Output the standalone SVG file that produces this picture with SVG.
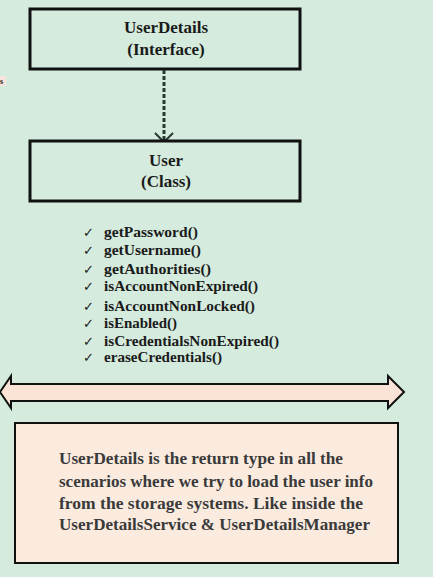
<svg xmlns="http://www.w3.org/2000/svg" width="433" height="577" viewBox="0 0 433 577">
<style>
.bg{fill:#d4ebdd}
.box{fill:#d4ebdd;stroke:#111;stroke-width:3}
.note{fill:#fbebdf;stroke:#111;stroke-width:2}
.t{font-family:"Liberation Serif",serif;font-weight:bold;fill:#1a1a1a}
.title{font-size:17px;text-anchor:middle}
.item{font-size:15px}
.chk{font-family:"DejaVu Sans",sans-serif;font-weight:normal;font-size:13px}
.body{font-size:17px;fill:#3a3a3a}
.conn{stroke:#2a3a33;stroke-width:3;stroke-dasharray:4 2;fill:none}
</style>
<rect class="bg" x="0" y="0" width="433" height="577"/>
<g id="fragment">
<rect x="0" y="76" width="6" height="10" fill="#f6e4dc"/>
<text class="t" x="0" y="84" font-size="8">s</text>
</g>
<g id="userdetails">
<rect class="box" x="30" y="9" width="270" height="60"/>
<text class="t title" x="166" y="33">UserDetails</text>
<text class="t title" x="166" y="55">(Interface)</text>
</g>
<g id="connectors">
<line class="conn" x1="164" y1="70" x2="164" y2="141"/>
<polyline points="155,133 164,142 173,133" fill="none" stroke="#2a3a33" stroke-width="2"/>
</g>
<g id="user">
<rect class="box" x="30" y="141" width="270" height="60"/>
<text class="t title" x="166" y="166">User</text>
<text class="t title" x="166" y="187">(Class)</text>
</g>
<g id="methods" class="t item">
<text class="chk" x="83" y="237">✓</text><text x="104" y="237" textLength="94" lengthAdjust="spacingAndGlyphs">getPassword()</text>
<text class="chk" x="83" y="255">✓</text><text x="104" y="255" textLength="97" lengthAdjust="spacingAndGlyphs">getUsername()</text>
<text class="chk" x="83" y="274">✓</text><text x="104" y="274" textLength="107" lengthAdjust="spacingAndGlyphs">getAuthorities()</text>
<text class="chk" x="83" y="291">✓</text><text x="104" y="291" textLength="154" lengthAdjust="spacingAndGlyphs">isAccountNonExpired()</text>
<text class="chk" x="83" y="311">✓</text><text x="104" y="311" textLength="151" lengthAdjust="spacingAndGlyphs">isAccountNonLocked()</text>
<text class="chk" x="83" y="328">✓</text><text x="104" y="328" textLength="73" lengthAdjust="spacingAndGlyphs">isEnabled()</text>
<text class="chk" x="83" y="346">✓</text><text x="104" y="346" textLength="175" lengthAdjust="spacingAndGlyphs">isCredentialsNonExpired()</text>
<text class="chk" x="83" y="362">✓</text><text x="104" y="362" textLength="118" lengthAdjust="spacingAndGlyphs">eraseCredentials()</text>
</g>
<g id="double-arrow">
<polygon points="0,392 11,376 11,384 388,384 388,376 404,392 388,408 388,401 11,401 11,408" fill="#fbe4d6" stroke="#111" stroke-width="2" stroke-linejoin="miter"/>
</g>
<g id="note">
<rect class="note" x="15" y="423" width="383" height="140"/>
<text class="t body" x="59" y="464" textLength="284" lengthAdjust="spacingAndGlyphs">UserDetails is the return type in all the</text>
<text class="t body" x="59" y="487" textLength="314" lengthAdjust="spacingAndGlyphs">scenarios where we try to load the user info</text>
<text class="t body" x="59" y="509" textLength="304" lengthAdjust="spacingAndGlyphs">from the storage systems. Like inside the</text>
<text class="t body" x="59" y="530" textLength="311" lengthAdjust="spacingAndGlyphs">UserDetailsService &amp; UserDetailsManager</text>
</g>
</svg>
